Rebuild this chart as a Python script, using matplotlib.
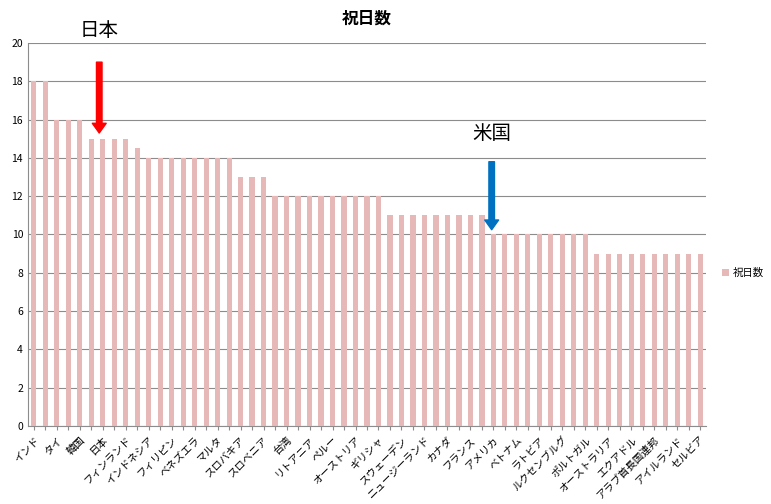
import matplotlib
matplotlib.use('Agg')
import matplotlib.pyplot as plt
import numpy as np

plt.rcParams['font.family'] = ['Noto Sans CJK JP', 'DejaVu Sans']

# holiday counts, sorted (59 countries, every other one labelled)
values = [18, 18, 16, 16, 16, 15, 15, 15, 15, 14.5,
          14, 14, 14, 14, 14, 14, 14, 14, 13, 13, 13,
          12, 12, 12, 12, 12, 12, 12, 12, 12, 12,
          11, 11, 11, 11, 11, 11, 11, 11, 11,
          10, 10, 10, 10, 10, 10, 10, 10, 10,
          9, 9, 9, 9, 9, 9, 9, 9, 9, 9]
shown = ['インド', 'タイ', '韓国', '日本', 'フィンランド', 'インドネシア', 'フィリピン',
         'ベネズエラ', 'マルタ', 'スロバキア', 'スロベニア', '台湾', 'リトアニア', 'ペルー',
         'オーストリア', 'ギリシャ', 'スウェーデン', 'ニュージーランド', 'カナダ', 'フランス',
         'アメリカ', 'ベトナム', 'ラトビア', 'ルクセンブルグ', 'ポルトガル', 'オーストラリア',
         'エクアドル', 'アラブ首長国連邦', 'アイルランド', 'セルビア']
labels = []
for s in shown:
    labels += [s, '']
labels = labels[:len(values)]

x = np.arange(len(values))
fig = plt.figure(figsize=(7.71, 5.04), dpi=100)
ax = fig.add_axes([28/771, 78/504, 678/771, 383/504])

ax.bar(x, values, width=0.45, color='#e6b9b8', label='祝日数', zorder=3)
ax.set_xlim(-0.5, len(values) - 0.5)
ax.set_ylim(0, 20)
ax.set_yticks(range(0, 21, 2))
ax.grid(axis='y', color='#8c8c8c', lw=0.8, zorder=0)
ax.set_xticks(x)
ax.set_xticklabels(labels, rotation=45, ha='right', rotation_mode='anchor', fontsize=7.5)
ax.tick_params(axis='y', labelsize=7.5, length=0)
ax.tick_params(axis='x', length=3, color='#8c8c8c')
for sp in ['top', 'right']:
    ax.spines[sp].set_visible(False)
ax.spines['left'].set_color('#8c8c8c')
ax.spines['bottom'].set_color('#8c8c8c')

ax.set_title('祝日数', fontsize=12, fontweight='bold', pad=14)

# arrows for Japan and USA
jp = labels.index('日本')
us = labels.index('アメリカ')
ax.annotate('', xy=(jp - 0.3, 15.3), xytext=(jp - 0.3, 19.0),
            arrowprops=dict(color='#ff0000', width=4, headwidth=10, headlength=7), annotation_clip=False)
ax.text(jp - 0.3, 20.1, '日本', fontsize=14, ha='center', va='bottom', clip_on=False)
ax.annotate('', xy=(us - 0.15, 10.25), xytext=(us - 0.15, 13.8),
            arrowprops=dict(color='#0070c0', width=4, headwidth=10, headlength=7))
ax.text(us - 0.15, 14.7, '米国', fontsize=14, ha='center', va='bottom')

ax.legend(loc='center left', bbox_to_anchor=(1.01, 0.4), frameon=False,
          fontsize=7.5, handlelength=0.7, handleheight=0.7, handletextpad=0.3)

fig.savefig('out.png', dpi=100)
